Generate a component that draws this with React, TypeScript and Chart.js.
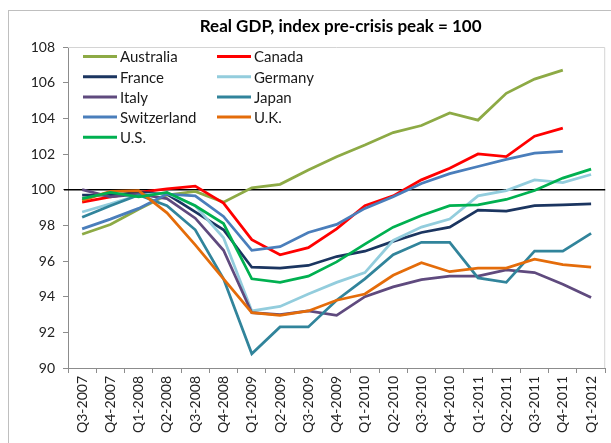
import React, { useEffect, useRef } from 'react';
import { Chart, registerables } from 'chart.js';

Chart.register(...registerables);

const TITLE = 'Real GDP, index pre-crisis peak = 100';

const categories = [
  'Q3-2007', 'Q4-2007', 'Q1-2008', 'Q2-2008', 'Q3-2008', 'Q4-2008', 'Q1-2009', 'Q2-2009',
  'Q3-2009', 'Q4-2009', 'Q1-2010', 'Q2-2010', 'Q3-2010', 'Q4-2010', 'Q1-2011', 'Q2-2011',
  'Q3-2011', 'Q4-2011', 'Q1-2012',
];

const australia = [97.5, 98.05, 98.9, 99.7, 99.9, 99.3, 100.1, 100.3, 101.1, 101.85, 102.5, 103.2, 103.6, 104.3, 103.9, 105.4, 106.2, 106.7, null];
const canada = [99.3, 99.6, 99.85, 100.05, 100.2, 99.25, 97.2, 96.35, 96.75, 97.8, 99.1, 99.65, 100.55, 101.2, 102.0, 101.85, 103.0, 103.45, null];
const france = [99.7, 99.7, 99.85, 99.75, 98.75, 97.75, 95.65, 95.6, 95.75, 96.25, 96.55, 97.1, 97.6, 97.9, 98.85, 98.8, 99.1, 99.15, 99.2];
const germany = [98.75, 99.2, 99.7, 99.8, 99.1, 97.3, 93.2, 93.45, 94.15, 94.8, 95.35, 97.15, 97.9, 98.35, 99.65, 99.95, 100.55, 100.4, 100.85];
const italy = [100.0, 99.6, 99.75, 99.5, 98.4, 96.6, 93.1, 93.0, 93.2, 92.95, 94.0, 94.55, 94.95, 95.15, 95.15, 95.5, 95.35, 94.7, 93.95];
const japan = [98.45, 99.1, 99.7, 99.1, 97.75, 95.0, 90.8, 92.3, 92.3, 93.8, 95.0, 96.35, 97.05, 97.05, 95.05, 94.8, 96.55, 96.55, 97.55];
const switzerland = [97.8, 98.35, 98.95, 99.75, 99.65, 98.5, 96.6, 96.8, 97.6, 98.05, 98.95, 99.6, 100.35, 100.9, 101.3, 101.7, 102.05, 102.15, null];
const uk = [99.4, 99.9, 99.95, 98.7, 96.9, 95.0, 93.1, 92.95, 93.2, 93.8, 94.15, 95.2, 95.9, 95.4, 95.6, 95.6, 96.1, 95.8, 95.65];
const us = [99.5, 99.85, 99.6, 99.85, 99.1, 98.1, 95.0, 94.8, 95.15, 95.95, 96.95, 97.9, 98.55, 99.1, 99.15, 99.45, 99.95, 100.65, 101.15];

const seriesNames = ['Australia', 'Canada', 'France', 'Germany', 'Italy', 'Japan', 'Switzerland', 'U.K.', 'U.S.'];
const seriesData = [australia, canada, france, germany, italy, japan, switzerland, uk, us];
const seriesColors = ['#8DAA45', '#FF0000', '#1B3560', '#93CDDD', '#5F4A7E', '#31849B', '#4A7EBB', '#E46C0A', '#00B050'];

const Y_MIN = 90;
const Y_MAX = 108;
const Y_STEP = 2;
const REF_VALUE = 100;

const FONT = 'Lato, "Open Sans", sans-serif';

export default function App() {
  const canvasRef = useRef<HTMLCanvasElement | null>(null);

  useEffect(() => {
    const canvas = canvasRef.current;
    if (!canvas) return;

    const framePlugin = {
      id: 'frameAndRef',
      beforeDatasetsDraw(chart: any) {
        const { ctx, chartArea } = chart;
        const y = chart.scales.y.getPixelForValue(REF_VALUE);
        ctx.save();
        ctx.strokeStyle = '#d4d4d4';
        ctx.lineWidth = 1;
        ctx.beginPath();
        ctx.moveTo(chartArea.left, chartArea.top + 0.5);
        ctx.lineTo(chartArea.right - 0.5, chartArea.top + 0.5);
        ctx.lineTo(chartArea.right - 0.5, chartArea.bottom);
        ctx.stroke();
        ctx.strokeStyle = '#000000';
        ctx.lineWidth = 1.5;
        ctx.beginPath();
        ctx.moveTo(chartArea.left - 4, y);
        ctx.lineTo(chartArea.right, y);
        ctx.stroke();
        ctx.restore();
      },
    };

    const titleLegendPlugin = {
      id: 'titleLegend',
      afterDraw(chart: any) {
        const { ctx, chartArea } = chart;
        ctx.save();
        ctx.fillStyle = '#000';
        ctx.font = `bold 17px ${FONT}`;
        ctx.textAlign = 'center';
        ctx.textBaseline = 'middle';
        ctx.fillText(TITLE, (chartArea.left + chartArea.right) / 2 + 4, 16);

        ctx.font = `15px ${FONT}`;
        ctx.textAlign = 'left';
        const rowStart = chartArea.top + 9.5;
        const rowStep = 20.2;
        chart.data.datasets.forEach((ds: any, i: number) => {
          const col = i % 2;
          const row = Math.floor(i / 2);
          const x0 = chartArea.left + 15 + col * 134;
          const y0 = rowStart + row * rowStep;
          ctx.strokeStyle = ds.borderColor;
          ctx.lineWidth = 3;
          ctx.beginPath();
          ctx.moveTo(x0, y0);
          ctx.lineTo(x0 + 34, y0);
          ctx.stroke();
          ctx.fillStyle = '#1a1a1a';
          ctx.fillText(ds.label, x0 + 37, y0 + 1);
        });
        ctx.restore();
      },
    };

    const chart = new Chart(canvas, {
      type: 'line',
      data: {
        labels: categories,
        datasets: seriesNames.map((name, i) => ({
          label: name,
          data: seriesData[i],
          borderColor: seriesColors[i],
          backgroundColor: seriesColors[i],
          borderWidth: 2.75,
          pointRadius: 0,
          pointHoverRadius: 0,
          tension: 0,
          fill: false,
          order: seriesNames.length - i,
        })),
      },
      options: {
        responsive: false,
        animation: false,
        layout: { padding: { top: 36, right: 4, left: 0, bottom: 0 } },
        plugins: {
          legend: { display: false },
          title: { display: false },
          tooltip: { enabled: false },
        },
        scales: {
          x: {
            type: 'category',
            offset: true,
            grid: {
              display: true,
              drawOnChartArea: false,
              drawTicks: true,
              tickLength: 5,
              color: '#8c8c8c',
              offset: true,
            },
            border: { display: true, color: '#8c8c8c' },
            ticks: {
              autoSkip: false,
              minRotation: 90,
              maxRotation: 90,
              padding: 3,
              color: '#222',
              font: { family: FONT, size: 14 },
            },
            afterFit(scale: any) {
              scale.height = 75;
            },
          },
          y: {
            min: Y_MIN,
            max: Y_MAX,
            grid: {
              display: true,
              drawOnChartArea: false,
              drawTicks: true,
              tickLength: 5,
              color: '#8c8c8c',
            },
            border: { display: true, color: '#8c8c8c' },
            ticks: {
              stepSize: Y_STEP,
              padding: 8,
              color: '#222',
              font: { family: FONT, size: 14 },
            },
            afterFit(scale: any) {
              scale.width = 59;
            },
          },
        },
      },
      plugins: [framePlugin, titleLegendPlugin],
    });

    return () => chart.destroy();
  }, []);

  return (
    <div
      style={{
        position: 'absolute',
        left: 8,
        top: 10,
        width: 603,
        height: 433,
        boxSizing: 'border-box',
        borderLeft: '1px solid #bfbfbf',
        borderTop: '1px solid #bfbfbf',
        background: '#fff',
        overflow: 'hidden',
      }}
    >
      <canvas ref={canvasRef} width={602} height={432} style={{ display: 'block' }} />
    </div>
  );
}
